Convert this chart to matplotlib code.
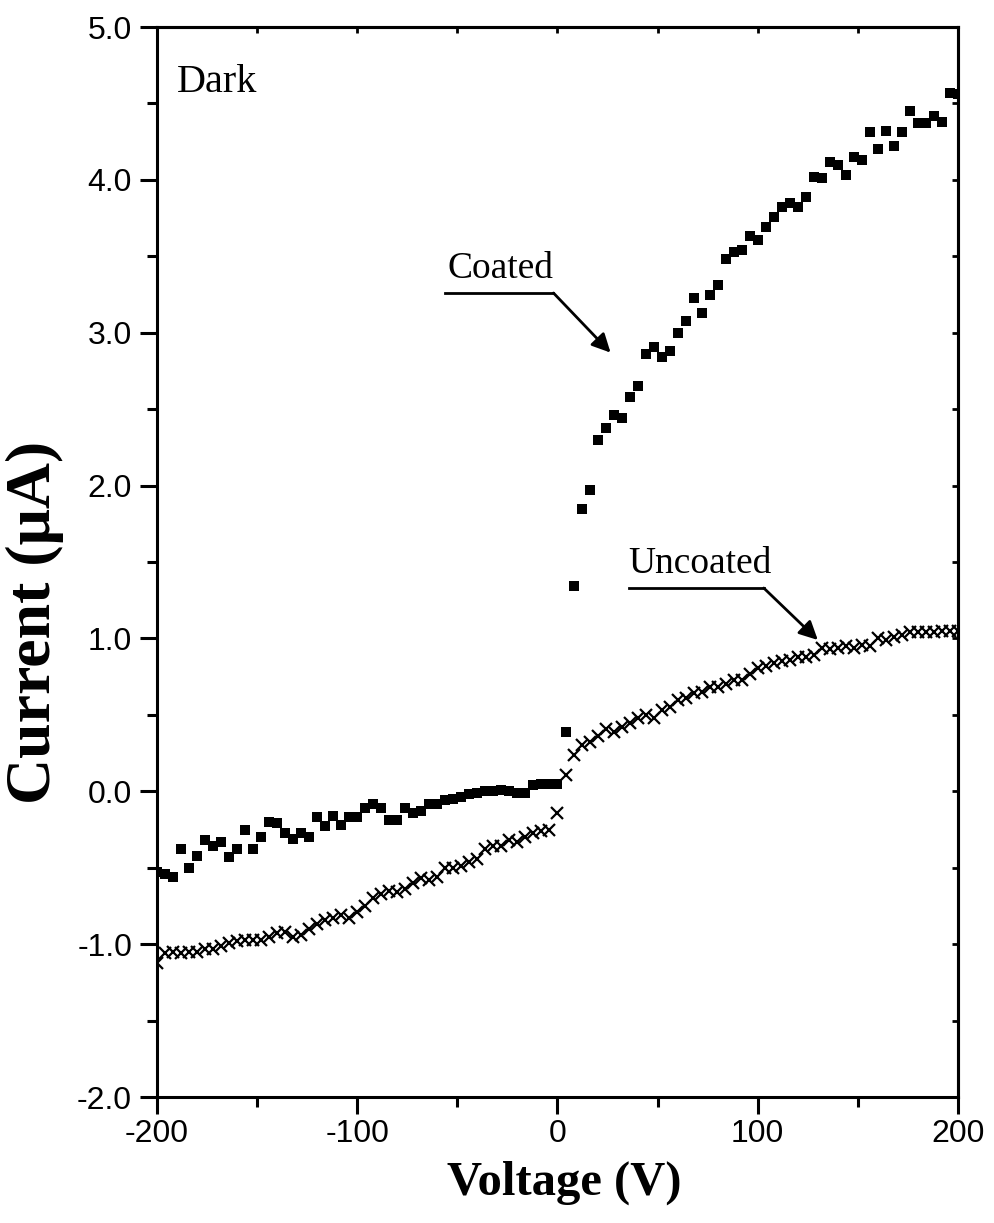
import numpy as np
import matplotlib
matplotlib.use("Agg")
import matplotlib.pyplot as plt
from matplotlib.ticker import MultipleLocator

plt.rcParams["axes.unicode_minus"] = False

# I-V data (voltage in V, current in uA)
volt_coated = np.arange(-200, 201, 4)
cur_coated = [
    -0.53, -0.54, -0.56, -0.38, -0.50, -0.42, -0.32, -0.36, -0.33, -0.43,
    -0.38, -0.25, -0.38, -0.30, -0.20, -0.21, -0.27, -0.31, -0.27, -0.30,
    -0.17, -0.23, -0.16, -0.22, -0.17, -0.17, -0.11, -0.08, -0.11, -0.19,
    -0.19, -0.11, -0.14, -0.13, -0.08, -0.08, -0.06, -0.05, -0.04, -0.02,
    -0.01, 0.00, 0.00, 0.01, 0.00, -0.01, -0.01, 0.04, 0.05, 0.05,
    0.05,
    0.39, 1.34, 1.85, 1.97, 2.30, 2.38, 2.46, 2.44, 2.58, 2.65,
    2.86, 2.91, 2.84, 2.88, 3.00, 3.08, 3.23, 3.13, 3.25, 3.31,
    3.48, 3.53, 3.54, 3.63, 3.61, 3.69, 3.76, 3.82, 3.85, 3.82,
    3.89, 4.02, 4.01, 4.12, 4.10, 4.03, 4.15, 4.13, 4.31, 4.20,
    4.32, 4.22, 4.31, 4.45, 4.37, 4.37, 4.42, 4.38, 4.57, 4.56,
]

volt_uncoated = np.arange(-200, 201, 4)
cur_uncoated = [
    -1.12, -1.06, -1.05, -1.06, -1.05, -1.05, -1.03, -1.03, -1.01, -0.99,
    -0.98, -0.97, -0.97, -0.97, -0.95, -0.93, -0.92, -0.95, -0.94, -0.90,
    -0.87, -0.84, -0.83, -0.81, -0.83, -0.79, -0.75, -0.70, -0.67, -0.65,
    -0.66, -0.64, -0.60, -0.57, -0.58, -0.56, -0.50, -0.50, -0.49, -0.46,
    -0.44, -0.38, -0.36, -0.36, -0.32, -0.33, -0.30, -0.27, -0.26, -0.25,
    -0.14,
    0.11, 0.24, 0.30, 0.32, 0.36, 0.41, 0.39, 0.42, 0.45, 0.48,
    0.50, 0.48, 0.53, 0.55, 0.60, 0.61, 0.64, 0.65, 0.68, 0.68,
    0.70, 0.73, 0.73, 0.77, 0.81, 0.82, 0.84, 0.85, 0.86, 0.88,
    0.88, 0.89, 0.94, 0.93, 0.94, 0.95, 0.94, 0.96, 0.95, 1.00,
    0.99, 1.01, 1.02, 1.04, 1.04, 1.04, 1.04, 1.05, 1.05, 1.05,
]

serif = ["Liberation Serif", "DejaVu Serif"]
sans = ["Liberation Sans", "DejaVu Sans"]

fig = plt.figure(figsize=(9.95, 12.23), dpi=100)
ax = fig.add_axes([0.1578, 0.1030, 0.8050, 0.8749])

ax.plot(volt_coated, cur_coated, linestyle="none", marker="s", markersize=7,
        color="black", markeredgewidth=0)
ax.plot(volt_uncoated, cur_uncoated, linestyle="none", marker="x", markersize=8,
        color="black", markeredgewidth=1.6)

ax.set_xlim(-200, 200)
ax.set_ylim(-2.0, 5.0)

ax.xaxis.set_major_locator(MultipleLocator(100))
ax.xaxis.set_minor_locator(MultipleLocator(50))
ax.yaxis.set_major_locator(MultipleLocator(1.0))
ax.yaxis.set_minor_locator(MultipleLocator(0.5))
ax.yaxis.set_major_formatter(matplotlib.ticker.FormatStrFormatter("%.1f"))

for s in ax.spines.values():
    s.set_linewidth(2.2)

ax.tick_params(which="major", direction="out", length=12, width=2.2,
               top=False, right=False, pad=6)
ax.tick_params(which="minor", direction="out", length=7, width=2.2,
               top=False, right=False)
ax.tick_params(axis="x", which="major", pad=4)

for lab in ax.get_yticklabels():
    lab.set_fontfamily(sans)
    lab.set_fontsize(23)
for lab in ax.get_xticklabels():
    lab.set_fontfamily(sans)
    lab.set_fontsize(23)

# small inward ticks on top and right
ax_top = ax.secondary_xaxis("top")
ax_top.xaxis.set_major_locator(MultipleLocator(100))
ax_top.xaxis.set_minor_locator(MultipleLocator(50))
ax_top.tick_params(which="both", direction="in", length=4, width=2, labeltop=False)
ax_top.spines["top"].set_linewidth(2.2)
ax_right = ax.secondary_yaxis("right")
ax_right.yaxis.set_major_locator(MultipleLocator(1.0))
ax_right.yaxis.set_minor_locator(MultipleLocator(0.5))
ax_right.tick_params(which="both", direction="in", length=4, width=2, labelright=False)
ax_right.spines["right"].set_linewidth(2.2)

fig.text(0.567, 0.0327, "Voltage (V)", fontfamily=serif, fontweight="bold",
         fontsize=35, ha="center", va="center")
fig.text(0.035, 0.491, "Current (\u03bcA)", fontfamily=serif, fontweight="bold",
         fontsize=46, ha="center", va="center", rotation=90)

ax.text(0.025, 0.939, "Dark", transform=ax.transAxes, fontfamily=serif,
        fontsize=29, va="baseline", ha="left")

# annotation leaders: (text anchor, elbow start, elbow end, arrow tip)
coated_note = {"text": (-55, 3.36), "line": (-56, -2, 3.26), "tip": (26.5, 2.87)}
uncoated_note = {"text": (35.5, 1.43), "line": (35.5, 103, 1.33), "tip": (130, 0.99)}

for label, note in (("Coated", coated_note), ("Uncoated", uncoated_note)):
    x0, x1, yl = note["line"]
    ax.text(note["text"][0], note["text"][1], label, fontfamily=serif,
            fontsize=27, va="baseline", ha="left")
    ax.plot([x0, x1], [yl, yl], color="black", lw=2)
    ax.annotate("", xy=note["tip"], xytext=(x1, yl),
                arrowprops=dict(arrowstyle="-|>", color="black", lw=2,
                                mutation_scale=28, shrinkA=0, shrinkB=0))

fig.savefig("out.png", dpi=100)
